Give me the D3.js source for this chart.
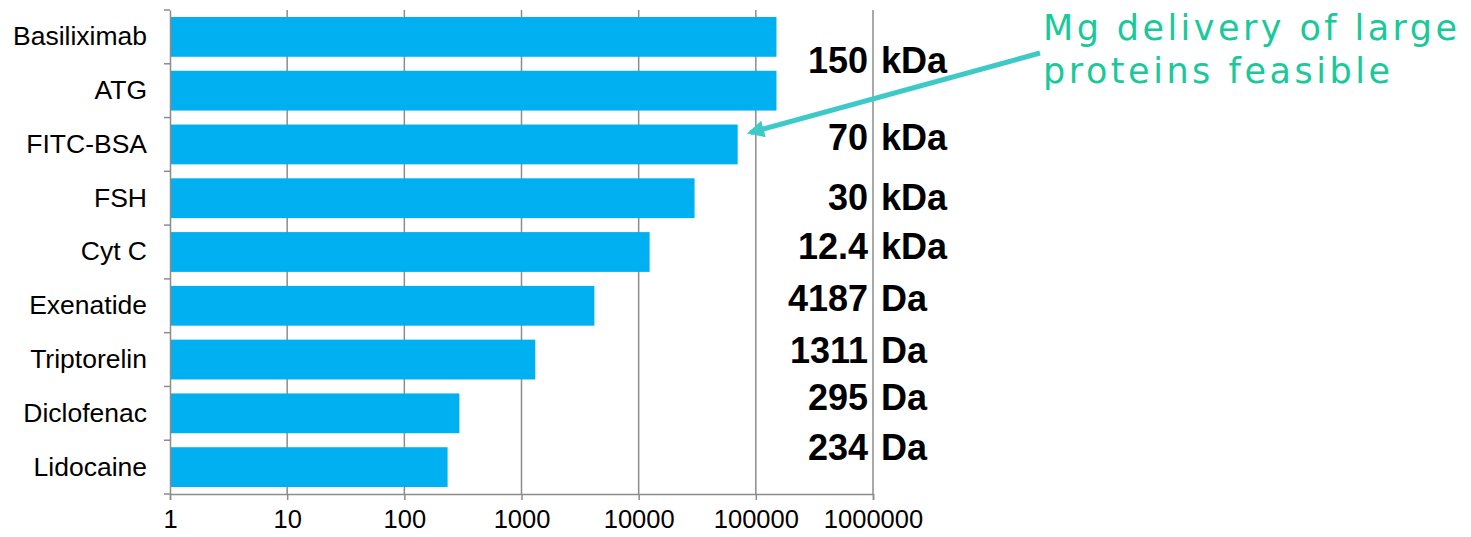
<!DOCTYPE html>
<html>
<head>
<meta charset="utf-8">
<script src="https://cdn.jsdelivr.net/npm/d3@7"></script>
<style>
  body { margin: 0; background: #fff; }
  svg { display: block; font-family: Arial, "Liberation Sans", sans-serif; }
</style>
</head>
<body>
<div id="chart"></div>
<script>
// dades del gràfic
const categories = ["Basiliximab", "ATG", "FITC-BSA", "FSH", "Cyt C", "Exenatide", "Triptorelin", "Diclofenac", "Lidocaine"];
const pesos = [150000, 150000, 70000, 30000, 12400, 4187, 1311, 295, 234];
const ticksX = [1, 10, 100, 1000, 10000, 100000, 1000000];
const etiquetesNum = ["150", "70", "30", "12.4", "4187", "1311", "295", "234"];
const etiquetesUnitat = ["kDa", "kDa", "kDa", "kDa", "Da", "Da", "Da", "Da"];
const notaLinies = ["Mg delivery of large", "proteins feasible"];

// dimensions
const ample = 1471, alt = 537;
const margen = {superior: 10, inferior: 43, esquerra: 170, dreta: 598};

const svg = d3.select("#chart")
  .append("svg")
  .attr("width", ample)
  .attr("height", alt);

const escalaX = d3.scaleLog()
  .domain([1, 1000000])
  .range([margen.esquerra, ample - margen.dreta]);

const escalaY = d3.scaleBand()
  .domain(categories)
  .range([margen.superior, alt - margen.inferior])
  .paddingInner(0.26)
  .paddingOuter(0.13);

const baseY = alt - margen.inferior;

// línies de la graella
svg.selectAll(".graella")
  .data(ticksX.slice(1))
  .enter()
  .append("line")
  .attr("x1", d => escalaX(d))
  .attr("x2", d => escalaX(d))
  .attr("y1", margen.superior)
  .attr("y2", baseY)
  .attr("stroke", "#8c8c8c")
  .attr("stroke-width", 1.5);

// barres
svg.selectAll(".barra")
  .data(pesos)
  .enter()
  .append("rect")
  .attr("x", escalaX(1))
  .attr("y", (d, i) => escalaY(categories[i]))
  .attr("width", d => escalaX(d) - escalaX(1))
  .attr("height", escalaY.bandwidth())
  .attr("fill", "#00b0f0");

// eix X
const eixX = svg.append("g")
  .attr("transform", `translate(0, ${baseY})`)
  .call(d3.axisBottom(escalaX).tickValues(ticksX).tickFormat(d3.format("d")).tickSize(6).tickPadding(10));
eixX.select(".domain").attr("stroke", "#8c8c8c").attr("stroke-width", 1.5);
eixX.selectAll(".tick line").attr("stroke", "#8c8c8c").attr("stroke-width", 1.5);
eixX.selectAll(".tick text")
  .attr("font-size", 25.5)
  .attr("font-family", "Arial, 'Liberation Sans', sans-serif")
  .attr("fill", "#000");

// eix Y
const eixY = svg.append("g")
  .attr("transform", `translate(${margen.esquerra}, 0)`)
  .call(d3.axisLeft(escalaY).tickSize(0).tickPadding(23));
eixY.select(".domain").attr("stroke", "#8c8c8c").attr("stroke-width", 1.5);
eixY.selectAll(".tick text")
  .attr("font-size", 26.5)
  .attr("font-family", "Arial, 'Liberation Sans', sans-serif")
  .attr("fill", "#000");

// marques a les fronteres entre categories
const pas = escalaY.step();
const fronteres = d3.range(categories.length + 1).map(i => margen.superior + i * pas);
svg.selectAll(".marca")
  .data(fronteres)
  .enter()
  .append("line")
  .attr("x1", margen.esquerra - 6)
  .attr("x2", margen.esquerra)
  .attr("y1", d => d)
  .attr("y2", d => d)
  .attr("stroke", "#8c8c8c")
  .attr("stroke-width", 1.5);

// etiquetes de pes molecular: fila a la qual pertany cada una i petit desplaçament
const posFila = [0, 2, 3, 4, 5, 6, 7, 8];
const desplacament = [0.43, -0.12, -0.02, -0.11, -0.14, -0.16, -0.29, -0.36];
const xEtiq = escalaX(1000000);
const yFila = i => escalaY(categories[posFila[i]]) + escalaY.bandwidth() / 2 + desplacament[i] * pas + 12.5;

svg.selectAll(".num")
  .data(etiquetesNum)
  .enter()
  .append("text")
  .attr("x", xEtiq - 5)
  .attr("y", (d, i) => yFila(i))
  .attr("text-anchor", "end")
  .attr("font-size", 36)
  .attr("font-weight", "bold")
  .attr("fill", "#000")
  .text(d => d);

svg.selectAll(".unitat")
  .data(etiquetesUnitat)
  .enter()
  .append("text")
  .attr("x", xEtiq + 8)
  .attr("y", (d, i) => yFila(i))
  .attr("font-size", 36)
  .attr("font-weight", "bold")
  .attr("fill", "#000")
  .text(d => d);

// fletxa cap a la barra de FITC-BSA
svg.append("defs").append("marker")
  .attr("id", "cap")
  .attr("viewBox", "0 0 10 10")
  .attr("refX", 8)
  .attr("refY", 5)
  .attr("markerWidth", 3.8)
  .attr("markerHeight", 3.4)
  .attr("orient", "auto")
  .attr("markerUnits", "strokeWidth")
  .append("path")
  .attr("d", "M0,0 L10,5 L0,10 Z")
  .attr("fill", "#3ec9c9");

const inici = [1040, 53];
const punta = [escalaX(70000) + 9, escalaY("FITC-BSA") + 9];
const dx = punta[0] - inici[0], dy = punta[1] - inici[1];
const llarg = Math.hypot(dx, dy);
const retall = 3.8;
svg.append("line")
  .attr("x1", inici[0])
  .attr("y1", inici[1])
  .attr("x2", punta[0] - dx / llarg * retall)
  .attr("y2", punta[1] - dy / llarg * retall)
  .attr("stroke", "#3ec9c9")
  .attr("stroke-width", 5)
  .attr("marker-end", "url(#cap)");

// nota
const amplesNota = [414, 347];
svg.selectAll(".nota")
  .data(notaLinies)
  .enter()
  .append("text")
  .attr("x", 1043)
  .attr("y", (d, i) => 40 + i * 43)
  .attr("font-size", 35)
  .attr("font-family", "'DejaVu Sans', Verdana, sans-serif")
  .attr("fill", "#19c99a")
  .attr("textLength", (d, i) => amplesNota[i])
  .attr("lengthAdjust", "spacing")
  .text(d => d);
</script>
</body>
</html>
